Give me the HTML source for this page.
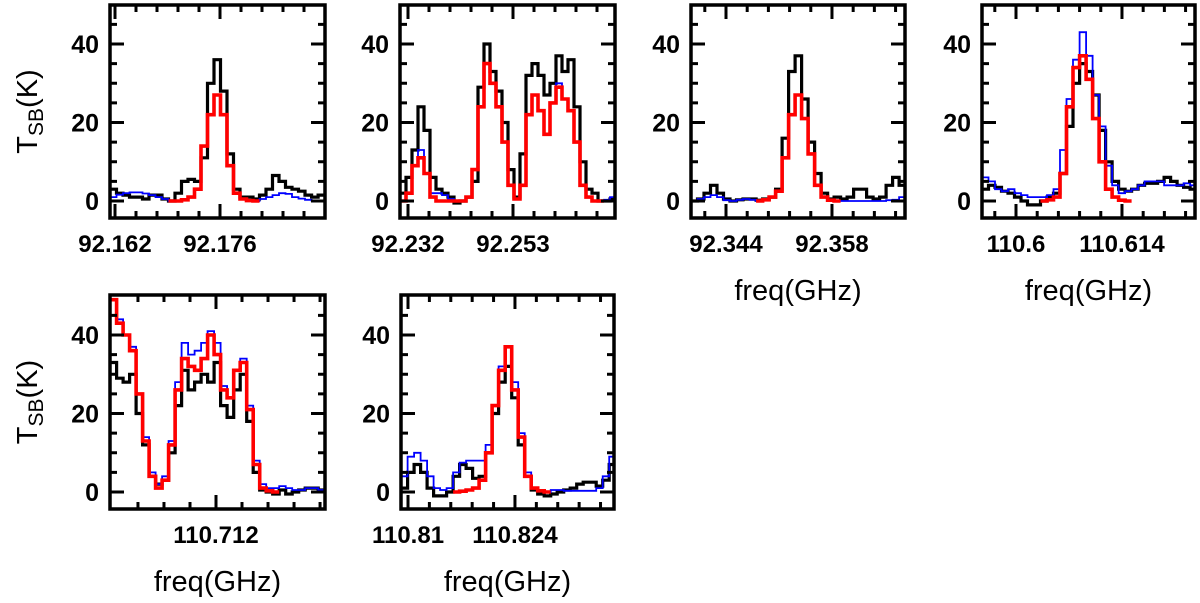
<!DOCTYPE html>
<html><head><meta charset="utf-8"><style>
body{margin:0;background:#fff}
svg text{font-family:"Liberation Sans",sans-serif;fill:#000;font-weight:bold}
svg text.title{font-weight:normal}
</style></head><body>
<svg id="fig" width="1200" height="598" viewBox="0 0 1200 598" xmlns="http://www.w3.org/2000/svg"></svg>
<script>
// ---- data (K per channel) ----
const p1Black=[3,2,1.5,1,1,0.5,1.5,1.5,0.5,0,2,5,5.5,5,11,30,36,28,12,3,1,1,0.5,1.5,3,6.5,5,3.5,3,2.5,1.5,1,1.5];
const p1Blue=[1,1.6,2,2.2,2.2,1.9,1.5,1,0.5,0,0,0.3,1,3,14,22,27,22,9,2,0.5,0.1,0,0.5,1,1.5,2,1.8,1,0.6,0.3,0.1,0];
const p1Red=[null,null,null,null,null,null,null,null,null,0,0,0.3,1,3,14,22,27,22,9,2,0.5,0.1,0];
const p2Black=[2,6,13,24,18,6,3,2,1,-0.5,0,1,5,29,40,33,28,20,8,1,12,32,35,32,27,30,37,33,36,24,10,3,2,0,0,0.5];
const p2Blue=[0,2,9,13,7,2,2,1.5,0.5,0,0,1,8,24,35,30,24,15,4,0.5,4,22,27,23,17,25,30,26,23,15,4,1,0,0,0.3,1];
const p2Red=[0,2,9,11,7,1,0,0,0,0,0,1,8,24,35,30,24,15,4,0.5,4,22,27,23,17,25,29,26,23,15,4,1,0,0];
const p3Black=[0,0.5,2,4,2,0.5,0,0.3,0.5,0.5,0.2,0.5,1,3,16,33,37,26,15,7,2,0.5,1,0.5,1,3,3,1,0.5,1,4,6,4];
const p3Blue=[0,0.5,1,1.5,1,0.2,0,0.3,0.5,0.3,0,0.3,1,2.5,11,22,27,21,12,4,1,0.2,0,0,0,0,0,0,0,0,0.2,0.3,1];
const p3Red=[null,null,null,null,null,null,null,null,null,null,0,0.3,1,2.5,11,22,27,21,12,4,1,0.2,0];
const p4Black=[3,4,3.5,2.5,2,1,0,-1,-1,0,1,2,7,19,30,35,33,27,18,10,5,3,2.5,3,4,4.5,4.5,5,6,5,4,3.5,3];
const p4Blue=[6,5,3,2.5,3,2,1.5,1,1,1,1.5,3,13,26,36,43,37,27,19,9,4,2,2.5,3,4,5,5,5,4,4,4,4.5,4];
const p4Red=[null,null,null,null,null,null,null,null,null,0,0.3,1,7,24,34,37,31,21,10,3,1,0.2,0];
const p5Black=[33,29,28,30,20,12,4,2,3,10,22,31,26,28,30,28,33,22,19,26,30,18,5,0.5,0,-0.5,0.5,-0.5,0,0.5,1,1,0.5];
const p5Blue=[49,44,40,37,25,14,5,2,4,13,28,38,35,36,38,41,38,27,24,31,34,22,8,2,1,1,1.5,1,0.5,0.5,1,1,0.5];
const p5Red=[49,43,40,36,25,13,4,1,3,12,26,34,32,31,34,40,35,26,24,31,33,21,7,1,0.3,0];
const p6Black=[1,5,7,5,1,-1,-1,0,4,7,6,3.5,4,10,20,28,32,24,12,4,0.5,-0.5,-1,-0.5,0,0.5,1,2,2.5,2.5,1.5,3,7];
const p6Blue=[4,9,10,8,4,1,0.5,1,5,7.5,8,8,8,12,22,32,37,28,15,5,1,0.5,0,0.5,0.5,0.3,0.3,0.3,0.3,0.3,1,4,9];
const p6Red=[null,null,null,null,null,null,null,null,0,0.2,0.5,1,3,10,22,31,37,26,14,4,1,0.3,0];
const p1Ticks=["92.162","92.176"], p2Ticks=["92.232","92.253"], p3Ticks=["92.344","92.358"];
const p4Ticks=["110.6","110.614"], p5Ticks=["110.712"], p6Ticks=["110.81","110.824"];
const yTickLabels=["0","20","40"];

const panels=[
 {n:1,L:110,R:325,T:5,B:218,fRef:92.162,xRef:115,ppm:7.5,f0:92.16133,df:0.867,minor:2.8,ticks:p1Ticks,black:p1Black,blue:p1Blue,red:p1Red,ylab:true,xlab:false},
 {n:2,L:400,R:615,T:5,B:218,fRef:92.232,xRef:408,ppm:5,f0:92.2304,df:1.2,minor:4.2,ticks:p2Ticks,black:p2Black,blue:p2Blue,red:p2Red,ylab:false,xlab:false},
 {n:3,L:691,R:905,T:5,B:218,fRef:92.344,xRef:726,ppm:7.57,f0:92.33938,df:0.859,minor:2.8,ticks:p3Ticks,black:p3Black,blue:p3Blue,red:p3Red,ylab:false,xlab:true},
 {n:4,L:982,R:1195,T:5,B:218,fRef:110.6,xRef:1016,ppm:7.57,f0:110.59551,df:0.859,minor:2.8,ticks:p4Ticks,black:p4Black,blue:p4Blue,red:p4Red,ylab:false,xlab:true},
 {n:5,L:110,R:325,T:295,B:509,fRef:110.712,xRef:216,ppm:9.29,f0:110.7006,df:0.70,minor:2.8,ticks:p5Ticks,black:p5Black,blue:p5Blue,red:p5Red,ylab:true,xlab:true},
 {n:6,L:401,R:614,T:295,B:509,fRef:110.81,xRef:408,ppm:7.64,f0:110.8091,df:0.851,minor:2.8,ticks:p6Ticks,black:p6Black,blue:p6Blue,red:p6Red,ylab:false,xlab:true}
];
const NS="http://www.w3.org/2000/svg";
const svg=document.getElementById('fig');
function mk(tag,at,parent){const e=document.createElementNS(NS,tag);for(const k in at)e.setAttribute(k,at[k]);(parent||svg).appendChild(e);return e;}

panels.forEach(p=>{
  const g=mk('g',{});
  
  
  const y0=p.B-17, kpx=3.925;
  const ys=v=>y0-v*kpx;
  const xs=f=>p.xRef+(f-p.fRef)*1000*p.ppm;
  const cid='clip'+p.n;
  const cp=mk('clipPath',{id:cid},g);
  mk('rect',{x:p.L,y:p.T,width:p.R-p.L,height:p.B-p.T},cp);
  function stepPath(arr){
    let d='',pen=false;
    arr.forEach((v,i)=>{
      if(v===null||v===undefined){pen=false;return;}
      const xa=xs(p.f0+i*p.df/1000), xb=xs(p.f0+(i+1)*p.df/1000), y=ys(v);
      d+=(pen?'L':'M')+xa.toFixed(1)+','+y.toFixed(1)+'L'+xb.toFixed(1)+','+y.toFixed(1);
      pen=true;
    });
    return d;
  }
  const sg=mk('g',{'clip-path':'url(#'+cid+')'},g);
  const pb=mk('path',{d:stepPath(p.black),fill:'none',stroke:'#000','stroke-width':3.2},sg);
  
  
  const pbl=mk('path',{d:stepPath(p.blue),fill:'none',stroke:'#0000ff','stroke-width':1.8},sg);
  
  
  const pr=mk('path',{d:stepPath(p.red),fill:'none',stroke:'#ff0000','stroke-width':3.6},sg);
  
  
  const fr=mk('rect',{x:p.L,y:p.T,width:p.R-p.L,height:p.B-p.T,fill:'none',stroke:'#000','stroke-width':3.5},g);
  
  
  for(let v=0;v<=50;v+=5){
    const y=ys(v); if(y<p.T+1)continue;
    const len=(v%20===0)?14:7;
    mk('line',{x1:p.L,x2:p.L+len,y1:y,y2:y,stroke:'#000','stroke-width':3},g);
    mk('line',{x1:p.R,x2:p.R-len,y1:y,y2:y,stroke:'#000','stroke-width':3},g);
  }
  yTickLabels.forEach(s=>{
    const t=mk('text',{x:p.L-11,y:ys(+s)+9,'text-anchor':'end','font-size':25},g);
    t.textContent=s;
    
    
  });
  for(let k=-30;k<=30;k++){
    const f=p.fRef+k*p.minor/1000, x=xs(f);
    if(x<p.L+2||x>p.R-2)continue;
    const len=(k%5===0)?14:7;
    mk('line',{x1:x,x2:x,y1:p.B,y2:p.B-len,stroke:'#000','stroke-width':3},g);
    mk('line',{x1:x,x2:x,y1:p.T,y2:p.T+len,stroke:'#000','stroke-width':3},g);
  }
  p.ticks.forEach(s=>{
    const t=mk('text',{x:xs(+s),y:p.B+34,'text-anchor':'middle','font-size':24},g);
    t.textContent=s;
    
    
  });
  if(p.xlab){
    const t=mk('text',{x:(p.L+p.R)/2,y:p.B+82,'text-anchor':'middle','font-size':29,'class':'title'},g);
    t.textContent='freq(GHz)';
    
    
  }
  if(p.ylab){
    const cy=(p.T+p.B)/2;
    const t=mk('text',{x:0,y:0,'text-anchor':'middle','font-size':29,'class':'title',transform:'translate(37,'+cy+') rotate(-90)'},g);
    t.innerHTML='T<tspan font-size="21" dy="6">SB</tspan><tspan dy="-6">(K)</tspan>';
    
    
  }
});
</script>
</body></html>
